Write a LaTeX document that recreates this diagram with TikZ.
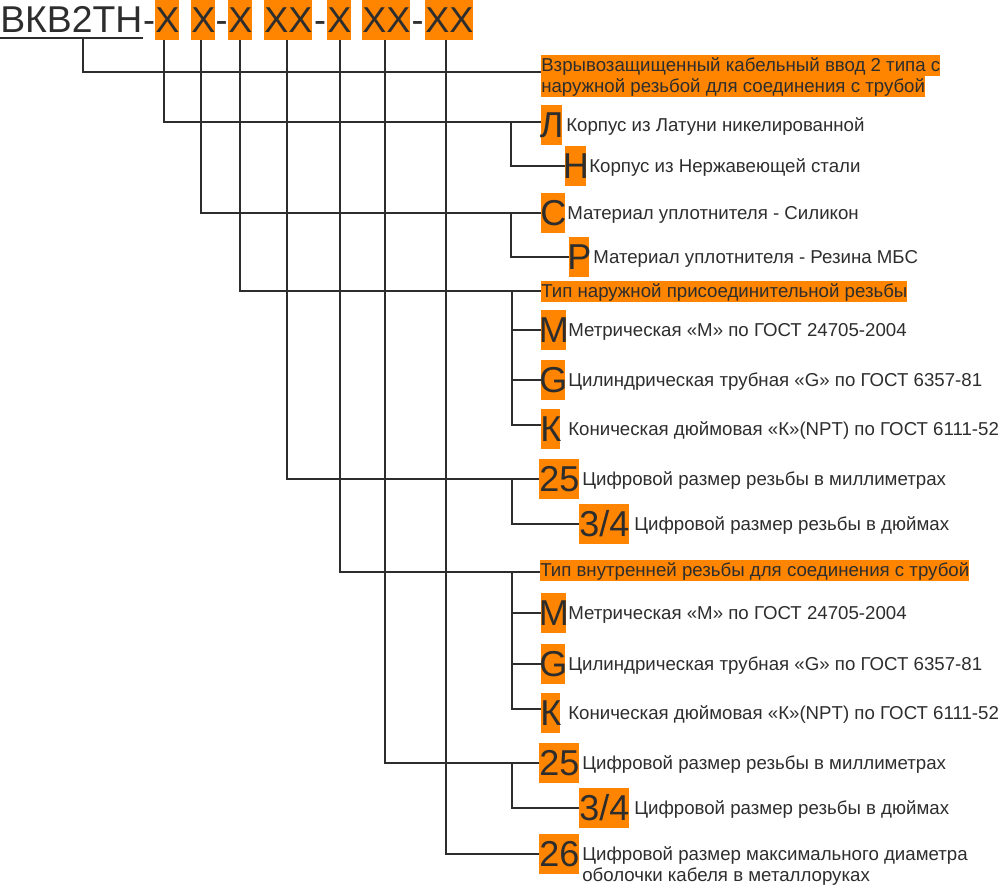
\documentclass[tikz,border=0pt]{standalone}
\usepackage{fontspec}
\setmainfont{Liberation Sans}
\usetikzlibrary{calc}
\definecolor{org}{RGB}{255,133,0}
\definecolor{ink}{RGB}{45,45,45}
\newcommand\fixw[2]{\makebox[#1][c]{#2}}
\tikzset{
  big/.style={font=\fontsize{27}{30}\selectfont, text=ink, inner sep=0pt,
    text height=24.4pt, text depth=5.7pt, anchor=base west},
  bigbox/.style={big, fill=org},
  txt/.style={font=\fontsize{14}{16}\selectfont, text=ink, inner sep=0pt, anchor=base west},
  hl/.style={txt, fill=org, text height=12.7pt, text depth=3pt},
  conn/.style={draw=ink, line width=1.5pt},
}
\begin{document}
\begin{tikzpicture}[x=0.75pt,y=-0.75pt]
\useasboundingbox (0,0) rectangle (1000,885);
% header
\node[big, font=\fontsize{28}{30}\selectfont] (title) at (0,32.6) {ВКВ2ТН};
\draw[draw=ink, line width=1.2pt] ($(title.base west)+(0,5.5)$) -- ($(title.base east)+(0,5.5)$);
\node[big, anchor=base] (h1) at (149,32.6) {-};
\node[bigbox] (b1) at (155,32.6) {X};
\node[bigbox] (b2) at (191,32.6) {X};
\node[big, anchor=base] (h2) at (221.5,32.6) {-};
\node[bigbox] (b3) at (228,32.6) {X};
\node[bigbox] (b4) at (264,32.6) {XX};
\node[big, anchor=base] (h3) at (320,32.6) {-};
\node[bigbox] (b5) at (327,32.6) {X};
\node[bigbox] (b6) at (362,32.6) {XX};
\node[big, anchor=base] (h4) at (417.5,32.6) {-};
\node[bigbox] (b7) at (425,32.6) {XX};
% descriptions
\node[hl] (d0a) at (541,71.9) {Взрывозащищенный кабельный ввод 2 типа с };
\node[hl] (d0b) at (541,92.9) {наружной резьбой для соединения с трубой};
\node[bigbox] (L) at (541,137.6) {\fixw{15.75pt}{Л}};
\node[txt] (tL) at (566,131.6) {Корпус из Латуни никелированной};
\node[bigbox] (H) at (565,178.6) {\fixw{15.75pt}{Н}};
\node[txt] (tH) at (589,172.6) {Корпус из Нержавеющей стали};
\node[bigbox] (C) at (541,225.6) {\fixw{18pt}{С}};
\node[txt] (tC) at (567,219.6) {Материал уплотнителя - Силикон};
\node[bigbox] (P) at (569,269.6) {\fixw{15pt}{Р}};
\node[txt] (tP) at (593,263.6) {Материал уплотнителя - Резина МБС};
\node[hl] (T1) at (541,297.9) {Тип наружной присоединительной резьбы};
\node[bigbox] (M1) at (541,342.6) {\fixw{18.75pt}{М}};
\node[txt] (tM1) at (568,336.6) {Метрическая «М» по ГОСТ 24705-2004};
\node[bigbox] (G1) at (541,392.6) {\fixw{18pt}{G}};
\node[txt] (tG1) at (568,386.6) {Цилиндрическая трубная «G» по ГОСТ 6357-81};
\node[bigbox] (K1) at (541,441.6) {\fixw{14.25pt}{К}};
\node[txt] (tK1) at (568,435.6) {Коническая дюймовая «К»(NPT) по ГОСТ 6111-52};
\node[bigbox] (N25a) at (539,491.6) {25};
\node[txt] (t25a) at (582,485.6) {Цифровой размер резьбы в миллиметрах};
\node[bigbox] (F34a) at (579,536.6) {3/4};
\node[txt] (t34a) at (634,530.6) {Цифровой размер резьбы в дюймах};
\node[hl] (T2) at (540,576.9) {Тип внутренней резьбы для соединения с трубой};
\node[bigbox] (M2) at (541,625.6) {\fixw{18.75pt}{М}};
\node[txt] (tM2) at (568,619.6) {Метрическая «М» по ГОСТ 24705-2004};
\node[bigbox] (G2) at (541,676.6) {\fixw{18pt}{G}};
\node[txt] (tG2) at (568,670.6) {Цилиндрическая трубная «G» по ГОСТ 6357-81};
\node[bigbox] (K2) at (541,725.6) {\fixw{14.25pt}{К}};
\node[txt] (tK2) at (568,719.6) {Коническая дюймовая «К»(NPT) по ГОСТ 6111-52};
\node[bigbox] (N25b) at (539,775.6) {25};
\node[txt] (t25b) at (582,769.6) {Цифровой размер резьбы в миллиметрах};
\node[bigbox] (F34b) at (579,820.6) {3/4};
\node[txt] (t34b) at (634,814.6) {Цифровой размер резьбы в дюймах};
\node[bigbox] (N26) at (539,866.6) {26};
\node[txt] (t26a) at (582,860.6) {Цифровой размер максимального диаметра};
\node[txt] (t26b) at (582,881) {оболочки кабеля в металлоруках};
% connectors
\draw[conn] ($(title.base west)+(83,5.5)$) |- ([yshift=3pt]d0a.south west);
\draw[conn] ([xshift=-2.6pt]b1.south) |- ([yshift=2.6pt]L.west);
\draw[conn] ([xshift=-22.5pt,yshift=2.6pt]L.west) |- (H.west);
\draw[conn] ([xshift=-1.5pt]b2.south) |- (C.west);
\draw[conn] ([xshift=-22.5pt]C.west) |- (P.west);
\draw[conn] (b3.south) |- (T1.west);
\draw[conn] ([xshift=-21.75pt]T1.west) |- (M1.west);
\draw[conn] ([xshift=-21.75pt]T1.west) |- (G1.west);
\draw[conn] ([xshift=-21.75pt]T1.west) |- ([yshift=3.4pt]K1.west);
\draw[conn] ([xshift=-1pt]b4.south) |- (N25a.west);
\draw[conn] ([xshift=-20.25pt]N25a.west) |- (F34a.west);
\draw[conn] ([xshift=0.75pt]b5.south) |- ([yshift=-1.5pt]T2.west);
\draw[conn] ([xshift=-21pt,yshift=-1.5pt]T2.west) |- (M2.west);
\draw[conn] ([xshift=-21pt,yshift=-1.5pt]T2.west) |- (G2.west);
\draw[conn] ([xshift=-21pt,yshift=-1.5pt]T2.west) |- ([yshift=3.4pt]K2.west);
\draw[conn] ([xshift=-0.75pt]b6.south) |- (N25b.west);
\draw[conn] ([xshift=-20.25pt]N25b.west) |- (F34b.west);
\draw[conn] ([xshift=-2.6pt]b7.south) |- (N26.west);
\end{tikzpicture}
\end{document}
